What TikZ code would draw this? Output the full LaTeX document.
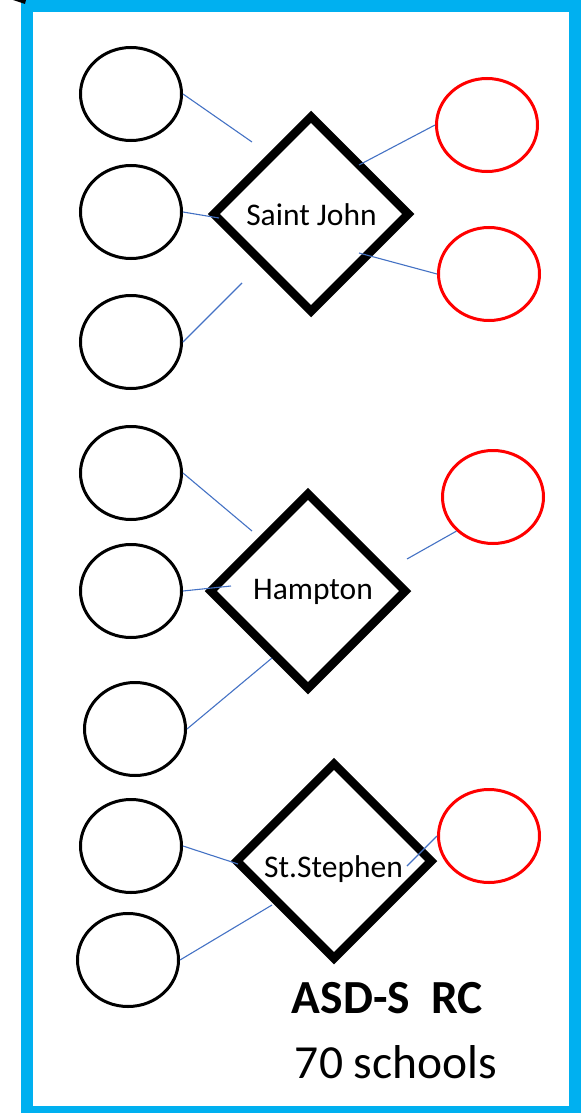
\documentclass[tikz,border=0pt]{standalone}
\usepackage{fontspec}
\setmainfont{Carlito}
\usetikzlibrary{shapes.geometric}
\definecolor{frameblue}{HTML}{00B0F0}
\definecolor{connblue}{HTML}{4472C4}
\begin{document}
\begin{tikzpicture}[x=1pt,y=-1pt,
  school/.style={ellipse,draw=black,line width=3pt,minimum width=101pt,minimum height=93pt,inner sep=0pt},
  rschool/.style={school,draw=red},
  hub/.style={diamond,draw=black,line width=8.5pt,minimum width=198pt,minimum height=198pt,inner sep=0pt,miter limit=10},
  conn/.style={draw=connblue,line width=1.1pt},
  lbl/.style={font=\fontsize{31.5}{36}\selectfont,anchor=base,inner sep=0pt},
  big/.style={font=\fontsize{47.5}{54}\selectfont,anchor=base,inner sep=0pt}]
\useasboundingbox (0,0) rectangle (585,1113);
% frame
\draw[frameblue,line width=12pt] (27,6) rectangle (575,1112);
\fill[black] (13,0) -- (26,0) -- (25,4) -- cycle;
% left schools
\node[school] (c1) at (131,94) {};
\node[school] (c2) at (131,212) {};
\node[school] (c3) at (131,342) {};
\node[school] (c4) at (131,473) {};
\node[school] (c5) at (131,591) {};
\node[school] (c6) at (135,729) {};
\node[school] (c7) at (131,846) {};
\node[school] (c8) at (128,960) {};
% right schools
\node[rschool] (r1) at (487,125) {};
\node[rschool] (r2) at (489,274) {};
\node[rschool] (r3) at (493,497) {};
\node[rschool] (r4) at (489,836) {};
% hubs
\node[hub] (sj) at (311,214) {};
\node[hub] (hp) at (308,591) {};
\node[hub] (ss) at (334,861) {};
\node[lbl] (sjl) at (311.5,225) {Saint John};
\node[lbl] (hpl) at (313,599) {Hampton};
\node[lbl] (ssl) at (333.5,877) {St.Stephen};
\node[big] (t1) at (387.5,1013) {\bfseries ASD-S\ \ RC};
\node[big] (t2) at (396,1078) {70 schools};
% connector ends
\coordinate (e1) at (252,142);
\coordinate (e2) at (219,218);
\coordinate (e3) at (242,283);
\coordinate (e4) at (359,165);
\coordinate (e5) at (359,253);
\coordinate (e6) at (252,531);
\coordinate (e7) at (231,586);
\coordinate (e8) at (272,658);
\coordinate (e9) at (407,559);
\coordinate (e10) at (238,864);
\coordinate (e11) at (272,905);
\coordinate (e12) at (407,866);
% connectors
\draw[conn] (c1.east) -- (e1);
\draw[conn] (c2.east) -- (e2);
\draw[conn] (c3.east) -- (e3);
\draw[conn] (r1.west) -- (e4);
\draw[conn] (r2.west) -- (e5);
\draw[conn] (c4.east) -- (e6);
\draw[conn] (c5.east) -- (e7);
\draw[conn] (c6.east) -- (e8);
\draw[conn] (r3.223) -- (e9);
\draw[conn] (c7.east) -- (e10);
\draw[conn] (c8.east) -- (e11);
\draw[conn] (r4.west) -- (e12);
\end{tikzpicture}
\end{document}
